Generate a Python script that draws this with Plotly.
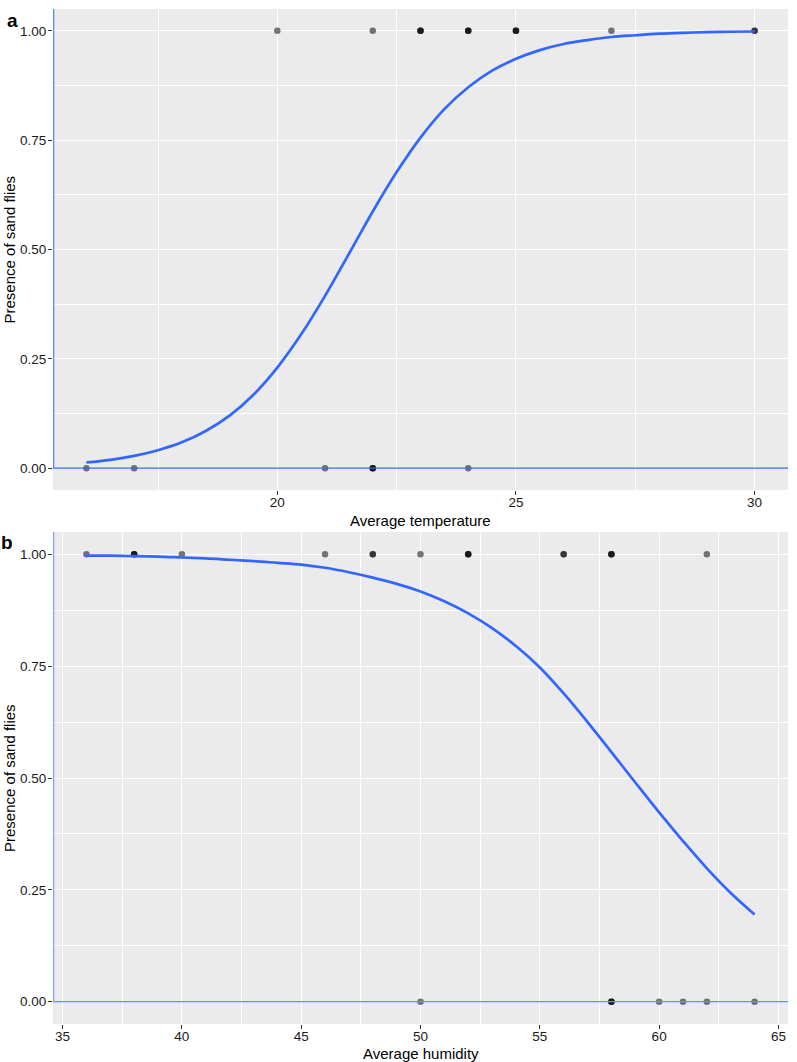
import plotly.graph_objects as go
from plotly.subplots import make_subplots

# ---- Panel a: temperature ----
temp_x = [20, 22, 23, 23, 23, 24, 24, 24, 25, 25, 25, 27, 30, 30,
          16, 17, 21, 22, 22, 22, 24]
temp_y = [1, 1, 1, 1, 1, 1, 1, 1, 1, 1, 1, 1, 1, 1,
          0, 0, 0, 0, 0, 0, 0]
temp_curve_x = [16, 16.5, 17, 17.5, 18, 18.5, 19, 19.5, 20, 20.5, 21, 21.5,
                22, 22.5, 23, 23.5, 24, 24.5, 25, 25.5, 26, 26.5, 27, 27.5,
                28, 28.5, 29, 29.5, 30]
temp_curve_y = [0.013, 0.019, 0.028, 0.041, 0.059, 0.085, 0.120, 0.168, 0.230,
                0.306, 0.394, 0.490, 0.587, 0.677, 0.756, 0.821, 0.871, 0.909,
                0.936, 0.956, 0.970, 0.979, 0.986, 0.990, 0.9935, 0.9956,
                0.997, 0.998, 0.9986]

# ---- Panel b: humidity ----
hum_x = [36, 38, 38, 38, 40, 46, 48, 48, 50, 52, 52, 52, 56, 56, 58, 58, 58, 62,
         50, 58, 58, 58, 60, 61, 62, 64]
hum_y = [1, 1, 1, 1, 1, 1, 1, 1, 1, 1, 1, 1, 1, 1, 1, 1, 1, 1,
         0, 0, 0, 0, 0, 0, 0, 0]
hum_curve_x = [36, 37, 38, 39, 40, 41, 42, 43, 44, 45, 46, 47, 48, 49, 50,
               51, 52, 53, 54, 55, 56, 57, 58, 59, 60, 61, 62, 63, 64]
hum_curve_y = [0.997, 0.997, 0.996, 0.995, 0.993, 0.991, 0.988, 0.985, 0.981,
               0.977, 0.970, 0.960, 0.948, 0.934, 0.917, 0.895, 0.868, 0.835,
               0.795, 0.747, 0.689, 0.625, 0.558, 0.490, 0.423, 0.359, 0.298,
               0.243, 0.195]

y_ticks = [0, 0.25, 0.5, 0.75, 1.0]
y_ticklabels = ["0.00", "0.25", "0.50", "0.75", "1.00"]
temp_ticks = [20, 25, 30]
hum_ticks = [35, 40, 45, 50, 55, 60, 65]

FONT = "Liberation Sans, Arial, sans-serif"
BLUE = "#3366FF"
PLOT_L, PLOT_R, PLOT_T, PLOT_B = 53, 788, 7, 1024
W, H = 797, 1062


def px_x(p):
    return (p - PLOT_L) / (PLOT_R - PLOT_L)


def px_y(p):
    return 1 - (p - PLOT_T) / (PLOT_B - PLOT_T)


fig = make_subplots(rows=2, cols=1)

fig.add_trace(go.Scatter(x=temp_x, y=temp_y, mode="markers",
                         marker=dict(size=6.5, color="rgba(0,0,0,0.52)", line=dict(width=0)),
                         showlegend=False, cliponaxis=False), row=1, col=1)
fig.add_trace(go.Scatter(x=temp_curve_x, y=temp_curve_y, mode="lines",
                         line=dict(color=BLUE, width=2.7, shape="spline"),
                         showlegend=False), row=1, col=1)
fig.add_trace(go.Scatter(x=hum_x, y=hum_y, mode="markers",
                         marker=dict(size=6.5, color="rgba(0,0,0,0.52)", line=dict(width=0)),
                         showlegend=False, cliponaxis=False), row=2, col=1)
fig.add_trace(go.Scatter(x=hum_curve_x, y=hum_curve_y, mode="lines",
                         line=dict(color=BLUE, width=2.7, shape="spline"),
                         showlegend=False), row=2, col=1)

common_axis = dict(
    showgrid=True, gridcolor="white", gridwidth=1.1,
    minor=dict(showgrid=True, gridcolor="white", gridwidth=0.5, ticks=""),
    ticks="outside", ticklen=4, tickcolor="#333333", tickwidth=1,
    tickfont=dict(family=FONT, size=13.5, color="#1a1a1a"),
    showline=False, zeroline=False, automargin=False,
)

fig.update_xaxes(**common_axis)
fig.update_yaxes(**common_axis)

fig.update_xaxes(range=[15.3, 30.7], tickvals=temp_ticks, ticklabelstandoff=-4,
                 minor=dict(tickvals=[17.5, 22.5, 27.5]), row=1, col=1)
fig.update_xaxes(range=[34.6, 65.4], tickvals=hum_ticks, ticklabelstandoff=-4,
                 minor=dict(tickvals=[37.5, 42.5, 47.5, 52.5, 57.5, 62.5]),
                 row=2, col=1)
fig.update_yaxes(range=[-0.05, 1.05], tickvals=y_ticks, ticktext=y_ticklabels,
                 ticklabelstandoff=-1,
                 minor=dict(tickvals=[0.125, 0.375, 0.625, 0.875]))

fig.update_layout(
    width=W, height=H,
    margin=dict(l=PLOT_L, r=W - PLOT_R, t=PLOT_T, b=H - PLOT_B),
    paper_bgcolor="white", plot_bgcolor="#EBEBEB",
    font=dict(family=FONT),
    xaxis=dict(domain=[0, 1]), xaxis2=dict(domain=[0, 1]),
    yaxis=dict(domain=[px_y(490), px_y(9)]),
    yaxis2=dict(domain=[0.0, px_y(532)]),
)

# blue axis lines: horizontal at y = 0 and vertical on the left from 0 to top
for xr, yr, col in [("x", "y", BLUE), ("x2", "y2", "#6d8dff")]:
    fig.add_shape(type="line", xref=f"{xr} domain", yref=yr, x0=0, x1=1, y0=0, y1=0,
                  line=dict(color=col, width=1.2), layer="above")
    fig.add_shape(type="line", xref=f"{xr} domain", yref=yr, x0=0.001, x1=0.001,
                  y0=0, y1=1.05, line=dict(color=col, width=1), layer="above")

title_font = dict(family=FONT, size=15, color="black")
fig.add_annotation(text="Average temperature", xref="paper", yref="paper",
                   x=0.5, y=px_y(520), showarrow=False, font=title_font,
                   xanchor="center", yanchor="middle")
fig.add_annotation(text="Average humidity", xref="paper", yref="paper",
                   x=0.5, y=px_y(1053), showarrow=False, font=title_font,
                   xanchor="center", yanchor="middle")
for cy in [(9 + 490) / 2, (532 + 1024) / 2]:
    fig.add_annotation(text="Presence of sand flies", xref="paper", yref="paper",
                       x=px_x(9), y=px_y(cy), showarrow=False, font=title_font,
                       textangle=-90, xanchor="center", yanchor="middle")

fig.add_annotation(text="<b>a</b>", xref="paper", yref="paper", x=px_x(12), y=px_y(20),
                   showarrow=False, font=dict(family=FONT, size=19, color="black"),
                   xanchor="center", yanchor="middle")
fig.add_annotation(text="<b>b</b>", xref="paper", yref="paper", x=px_x(7), y=px_y(542),
                   showarrow=False, font=dict(family=FONT, size=19, color="black"),
                   xanchor="center", yanchor="middle")

fig.write_html("out.html",
               config={"displayModeBar": False},
               post_script="document.body.style.margin='0px';"
                           "document.body.style.overflow='hidden';")
